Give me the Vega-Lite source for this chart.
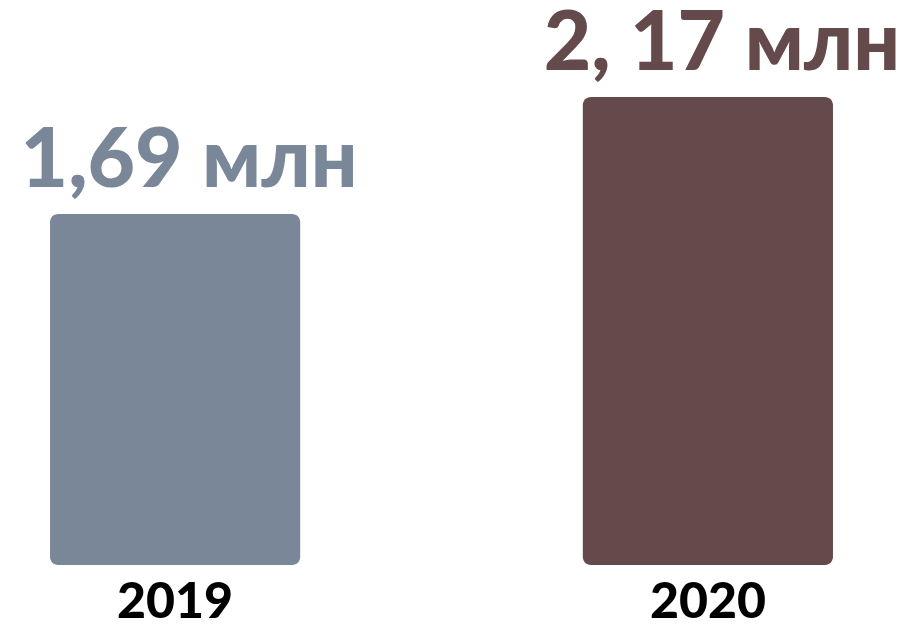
{
  "$schema": "https://vega.github.io/schema/vega-lite/v6.json",
  "width": 883,
  "height": 565,
  "autosize": {"type": "none"},
  "padding": {"left": 0, "top": 0, "right": 23, "bottom": 61},
  "background": "white",
  "config": {"view": {"stroke": null}},
  "data": {
    "values": [
      {"year": "2019", "value": 1.69, "label": "1,69 млн"},
      {"year": "2020", "value": 2.17, "label": "2, 17 млн"}
    ]
  },
  "encoding": {
    "x": {
      "field": "year",
      "type": "nominal",
      "scale": {"paddingInner": 0.5305, "paddingOuter": 0.0939},
      "axis": {
        "title": null,
        "domain": false,
        "ticks": false,
        "labelAngle": 0,
        "labelFont": "Lato",
        "labelFontWeight": 900,
        "labelFontSize": 50,
        "labelColor": "#000000",
        "labelPadding": 12,
        "labelBaseline": "top"
      }
    },
    "color": {
      "field": "year",
      "type": "nominal",
      "scale": {"domain": ["2019", "2020"], "range": ["#7a8799", "#654a4b"]},
      "legend": null
    }
  },
  "layer": [
    {
      "mark": {"type": "bar", "cornerRadius": 8},
      "encoding": {
        "y": {
          "field": "value",
          "type": "quantitative",
          "scale": {"domain": [0.25, 2.568], "zero": false, "nice": false},
          "axis": null
        },
        "y2": {"datum": 0.25}
      }
    },
    {
      "mark": {
        "type": "text",
        "font": "Lato",
        "fontWeight": 900,
        "fontSize": 82,
        "baseline": "alphabetic",
        "align": "center",
        "dy": -27,
        "dx": 14
      },
      "encoding": {
        "y": {"field": "value", "type": "quantitative"},
        "text": {"field": "label"}
      }
    }
  ]
}
